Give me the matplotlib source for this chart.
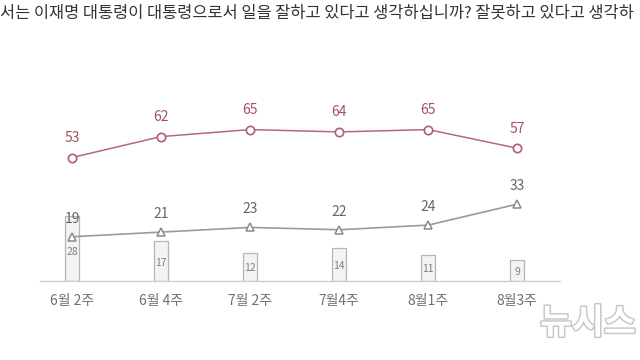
import matplotlib.pyplot as plt
import matplotlib.patheffects as pe

plt.rcParams['font.family'] = ['Noto Sans CJK KR', 'DejaVu Sans']

weeks = ['6월 2주', '6월 4주', '7월 2주', '7월4주', '8월1주', '8월3주']
positive = [53, 62, 65, 64, 65, 57]
negative = [19, 21, 23, 22, 24, 33]
undecided = [28, 17, 12, 14, 11, 9]

# only the part of the question visible in the crop
title = ('서는 이재명 대통령이 대통령으로서 일을 잘하고 있다고 생각하십니까? '
         '잘못하고 있다고 생각하')

fig = plt.figure(figsize=(6.4, 3.6), dpi=100)
ax = fig.add_axes([40 / 640, 79 / 360, 520 / 640, 181 / 360])

x = list(range(len(weeks)))

ax.bar(x, undecided, width=0.16, color='#f3f3f3', edgecolor='#b5b5b5',
       linewidth=0.9, zorder=1)
for i, v in enumerate(undecided):
    ax.text(i, v * 0.45, str(v), ha='center', va='center', fontsize=7.5,
            style='italic', color='#808080', zorder=2)

ax.plot(x, positive, color='#b46a77', linewidth=1.1, marker='o', markersize=6,
        markerfacecolor='white', markeredgecolor='#b05f6d', markeredgewidth=1.2,
        zorder=3)
for i, v in enumerate(positive):
    ax.annotate(str(v), (i, v), xytext=(0, 14), textcoords='offset points',
                ha='center', va='center', fontsize=10, color='#a5505f')

ax.plot(x, negative, color='#9a9a9a', linewidth=1.2, marker='^', markersize=6,
        markerfacecolor='white', markeredgecolor='#8a8a8a', markeredgewidth=1.1,
        zorder=3)
for i, v in enumerate(negative):
    ax.annotate(str(v), (i, v), xytext=(0, 13), textcoords='offset points',
                ha='center', va='center', fontsize=10, color='#666666')

ax.set_xlim(-0.36, 5.48)
ax.set_ylim(0, 77.7)
ax.set_xticks(x)
ax.set_xticklabels(weeks, fontsize=10, color='#707070')
ax.tick_params(axis='x', length=0, pad=9)
ax.set_yticks([])
for s in ['top', 'left', 'right']:
    ax.spines[s].set_visible(False)
ax.spines['bottom'].set_color('#d0d0d0')
ax.spines['bottom'].set_linewidth(1.0)
ax.patch.set_alpha(0)

fig.text(0.0, 1 - 13 / 360, title, ha='left', va='center', fontsize=11.8,
         color='#333333')

wm = fig.text(540 / 640, 1 - 323 / 360, '뉴시스', ha='left',
              va='center', fontsize=25, fontweight='bold', color='white')
wm.set_path_effects([pe.Stroke(linewidth=2.2, foreground='#c8c8c8'), pe.Normal()])

fig.savefig('out.png', dpi=100)
